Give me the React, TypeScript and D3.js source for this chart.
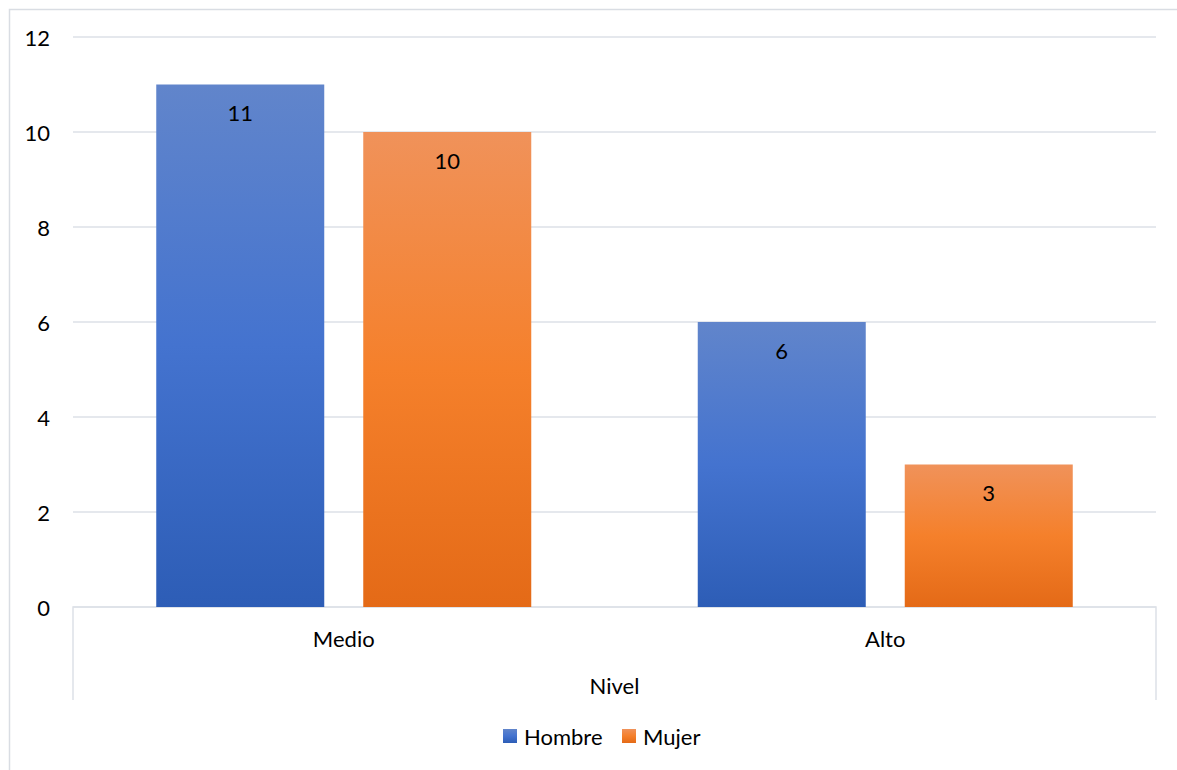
import React from "react";
import * as d3 from "d3";

const categories = ["Medio", "Alto"];
const seriesNames = ["Hombre", "Mujer"];
const hombre = [11, 6];
const mujer = [10, 3];
const yTicks = [0, 2, 4, 6, 8, 10, 12];

const W = 1177;
const H = 770;
const FONT = "Lato, 'Open Sans', sans-serif";
const FS = 22;

const gradients = [
  { id: "gradBlue", stops: ["#6185CB", "#4473CF", "#2D5DB6"] },
  { id: "gradOrange", stops: ["#F0925A", "#F5802B", "#E46A17"] },
];

export default function App() {
  const left = 73;
  const right = 1156;
  const top = 37;
  const bottom = 607;

  const x0 = d3.scaleBand<string>().domain(categories).range([left, right]).paddingInner(0).paddingOuter(0);
  const barW = 168;
  const gap = 39;
  const y = d3.scaleLinear().domain([0, 12]).range([bottom, top]);

  const series = [hombre, mujer];

  return (
    <svg width={W} height={H} style={{ display: "block", position: "absolute", left: 0, top: 0 }}>
      <defs>
        {gradients.map((g) => (
          <linearGradient key={g.id} id={g.id} x1="0" y1="0" x2="0" y2="1">
            <stop offset="0%" stopColor={g.stops[0]} />
            <stop offset="50%" stopColor={g.stops[1]} />
            <stop offset="100%" stopColor={g.stops[2]} />
          </linearGradient>
        ))}
      </defs>
      <rect x={0} y={0} width={W} height={H} fill="#ffffff" />
      {/* chart area border */}
      <path d={`M9.5,${H} V9.5 H${W}`} fill="none" stroke="#D9DDE3" strokeWidth={1.5} />

      {/* gridlines */}
      {yTicks.map((t) => (
        <line key={t} x1={left} x2={right} y1={y(t)} y2={y(t)} stroke="#DDE1E7" strokeWidth={1.5} />
      ))}
      {/* category axis frame */}
      <path d={`M${left},700 V${bottom} H${right} V700`} fill="none" stroke="#DDE1E7" strokeWidth={1.5} />

      {/* y tick labels */}
      {yTicks.map((t) => (
        <text key={t} x={50} y={y(t)} textAnchor="end" dominantBaseline="central" fontFamily={FONT} fontSize={FS} fill="#000">
          {t}
        </text>
      ))}

      {/* bars */}
      {categories.map((c, ci) => {
        const cx = (x0(c) as number) + x0.bandwidth() / 2;
        const total = barW * 2 + gap;
        return series.map((s, si) => {
          const bx = cx - total / 2 + si * (barW + gap);
          const v = s[ci];
          return (
            <g key={c + si}>
              <rect x={bx} y={y(v)} width={barW} height={y(0) - y(v)} fill={`url(#${gradients[si].id})`} />
              <text x={bx + barW / 2} y={y(v) + 28} textAnchor="middle" dominantBaseline="central" fontFamily={FONT} fontSize={FS} fill="#000">
                {v}
              </text>
            </g>
          );
        });
      })}

      {/* category labels */}
      {categories.map((c) => (
        <text key={c} x={(x0(c) as number) + x0.bandwidth() / 2} y={638} textAnchor="middle" dominantBaseline="central" fontFamily={FONT} fontSize={FS} fill="#000">
          {c}
        </text>
      ))}
      <text x={(left + right) / 2} y={685} textAnchor="middle" dominantBaseline="central" fontFamily={FONT} fontSize={FS} fill="#000">
        Nivel
      </text>

      {/* legend */}
      {seriesNames.map((n, i) => {
        const lx = i === 0 ? 503 : 622;
        return (
          <g key={n}>
            <rect x={lx} y={729} width={14} height={14} fill={`url(#${gradients[i].id})`} />
            <text x={lx + 21} y={736} dominantBaseline="central" fontFamily={FONT} fontSize={FS} fill="#000">
              {n}
            </text>
          </g>
        );
      })}
    </svg>
  );
}
